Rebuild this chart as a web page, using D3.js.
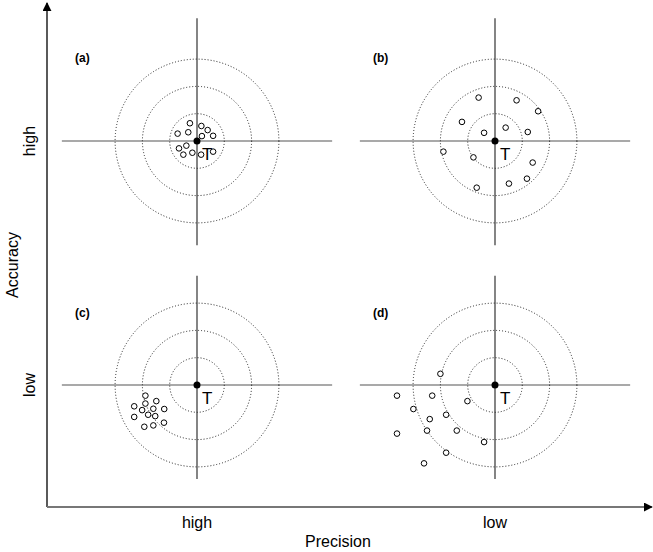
<!DOCTYPE html>
<html>
<head>
<meta charset="utf-8">
<script src="https://cdn.jsdelivr.net/npm/d3@7"></script>
<style>
  html, body { margin: 0; padding: 0; background: #fff; }
  svg { display: block; font-family: "Liberation Sans", Arial, sans-serif; }
</style>
</head>
<body>
<svg id="chart" width="653" height="552"></svg>
<script>
// ---- data (units: ring spacing = 1; x right, y up) ----
const precisionLevels = ["high", "low"];
const accuracyLevels = ["high", "low"];
const panelLabels = ["(a)", "(b)", "(c)", "(d)"];
const ringRadii = [1, 2, 3];
const targetLabel = "T";

// (a) high accuracy, high precision
const shotsA_x = [-0.26, -0.71, -0.32, 0.16, 0.39, 0.59, 0.18, -0.66, -0.39, -0.50, -0.17, 0.15, 0.59];
const shotsA_y = [0.65, 0.27, 0.32, 0.55, 0.40, 0.19, 0.18, -0.27, -0.17, -0.50, -0.43, -0.50, -0.39];
// (b) high accuracy, low precision
const shotsB_x = [-0.60, 0.79, 1.58, -1.21, 0.39, -0.40, 1.20, -1.89, -0.79, 1.38, 1.17, 0.51, -0.67];
const shotsB_y = [1.59, 1.49, 1.09, 0.70, 0.49, 0.30, 0.33, -0.39, -0.60, -0.79, -1.38, -1.56, -1.71];
// (c) low accuracy, high precision
const shotsC_x = [-1.89, -1.49, -2.30, -1.89, -2.01, -1.60, -1.20, -2.30, -1.79, -1.53, -1.93, -1.60, -1.21];
const shotsC_y = [-0.39, -0.59, -0.78, -0.68, -0.92, -0.87, -0.88, -1.17, -1.09, -1.14, -1.53, -1.48, -1.38];
// (d) low accuracy, low precision
const shotsD_x = [-2.00, -3.59, -2.30, -1.01, -2.99, -1.79, -2.39, -2.49, -1.40, -3.59, -0.40, -1.79, -2.60];
const shotsD_y = [0.41, -0.39, -0.39, -0.59, -0.88, -1.09, -1.25, -1.67, -1.67, -1.78, -2.09, -2.48, -2.87];

const shotsX = [shotsA_x, shotsB_x, shotsC_x, shotsD_x];
const shotsY = [shotsA_y, shotsB_y, shotsC_y, shotsD_y];

// ---- layout ----
const svg = d3.select("#chart");
const unit = 27.3;
const colX = d3.scalePoint().domain(precisionLevels).range([197, 495]);
const rowY = d3.scalePoint().domain(accuracyLevels).range([141, 385]);

// crosshair extents (units) per row: [up, down]
const vExtent = { high: [4.5, 3.82], low: [4.0, 3.44] };
const hExtent = 4.95;
const labelBaseline = { high: 62, low: 317 };

// ---- outer axes ----
const axisX0 = 47, axisY0 = 507;
svg.append("defs").append("marker")
  .attr("id", "arrow").attr("viewBox", "0 0 10 10")
  .attr("refX", 9).attr("refY", 5)
  .attr("markerWidth", 9).attr("markerHeight", 9)
  .attr("markerUnits", "userSpaceOnUse")
  .attr("orient", "auto")
  .append("path").attr("d", "M0,0 L10,5 L0,10 Z").attr("fill", "#000");

svg.append("line")
  .attr("x1", axisX0).attr("y1", axisY0)
  .attr("x2", axisX0).attr("y2", 3)
  .attr("stroke", "#000").attr("stroke-width", 1.3)
  .attr("marker-end", "url(#arrow)");
svg.append("line")
  .attr("x1", axisX0).attr("y1", axisY0)
  .attr("x2", 652).attr("y2", axisY0)
  .attr("stroke", "#777").attr("stroke-width", 2)
  .attr("marker-end", "url(#arrow)");

// ---- panels ----
accuracyLevels.forEach((acc, ri) => {
  precisionLevels.forEach((prec, ci) => {
    const i = ri * 2 + ci;
    const cx = colX(prec), cy = rowY(acc);
    const x = d3.scaleLinear().domain([-1, 1]).range([cx - unit, cx + unit]);
    const y = d3.scaleLinear().domain([-1, 1]).range([cy + unit, cy - unit]);
    const g = svg.append("g");

    // crosshair
    g.append("line")
      .attr("x1", x(-hExtent)).attr("x2", x(hExtent))
      .attr("y1", y(0)).attr("y2", y(0))
      .attr("stroke", "#555").attr("stroke-width", 1.2);
    g.append("line")
      .attr("x1", x(0)).attr("x2", x(0))
      .attr("y1", y(vExtent[acc][0])).attr("y2", y(-vExtent[acc][1]))
      .attr("stroke", "#333").attr("stroke-width", 1.2);

    // rings
    g.selectAll("circle.ring").data(ringRadii).join("circle")
      .attr("class", "ring")
      .attr("cx", x(0)).attr("cy", y(0))
      .attr("r", d => x(d) - x(0))
      .attr("fill", "none")
      .attr("stroke", "#222").attr("stroke-width", 1)
      .attr("stroke-dasharray", "1,2");

    // target centre
    g.append("circle")
      .attr("cx", x(0)).attr("cy", y(0)).attr("r", 3.5)
      .attr("fill", "#000");

    g.append("text")
      .attr("x", x(0) + 5).attr("y", y(0) + 19)
      .attr("font-size", 17).attr("fill", "#000")
      .text(targetLabel);

    // shots
    const pts = shotsX[i].map((v, k) => [v, shotsY[i][k]]);
    g.selectAll("circle.shot").data(pts).join("circle")
      .attr("class", "shot")
      .attr("cx", d => x(d[0])).attr("cy", d => y(d[1]))
      .attr("r", 2.8)
      .attr("fill", "#fff").attr("stroke", "#000").attr("stroke-width", 1);

    // panel label
    g.append("text")
      .attr("x", cx - 122).attr("y", labelBaseline[acc])
      .attr("font-size", 12).attr("font-weight", "bold")
      .text(panelLabels[i]);
  });
});

// ---- category labels ----
svg.selectAll("text.plabel").data(precisionLevels).join("text")
  .attr("class", "plabel")
  .attr("x", d => colX(d)).attr("y", 528)
  .attr("text-anchor", "middle").attr("font-size", 16)
  .text(d => d);
svg.append("text")
  .attr("x", 338).attr("y", 547)
  .attr("text-anchor", "middle").attr("font-size", 16)
  .text("Precision");

svg.selectAll("text.alabel").data(accuracyLevels).join("text")
  .attr("class", "alabel")
  .attr("transform", d => `translate(35,${rowY(d)}) rotate(-90)`)
  .attr("text-anchor", "middle").attr("font-size", 16)
  .text(d => d);
svg.append("text")
  .attr("transform", "translate(18,265) rotate(-90)")
  .attr("text-anchor", "middle").attr("font-size", 16)
  .text("Accuracy");
</script>
</body>
</html>
